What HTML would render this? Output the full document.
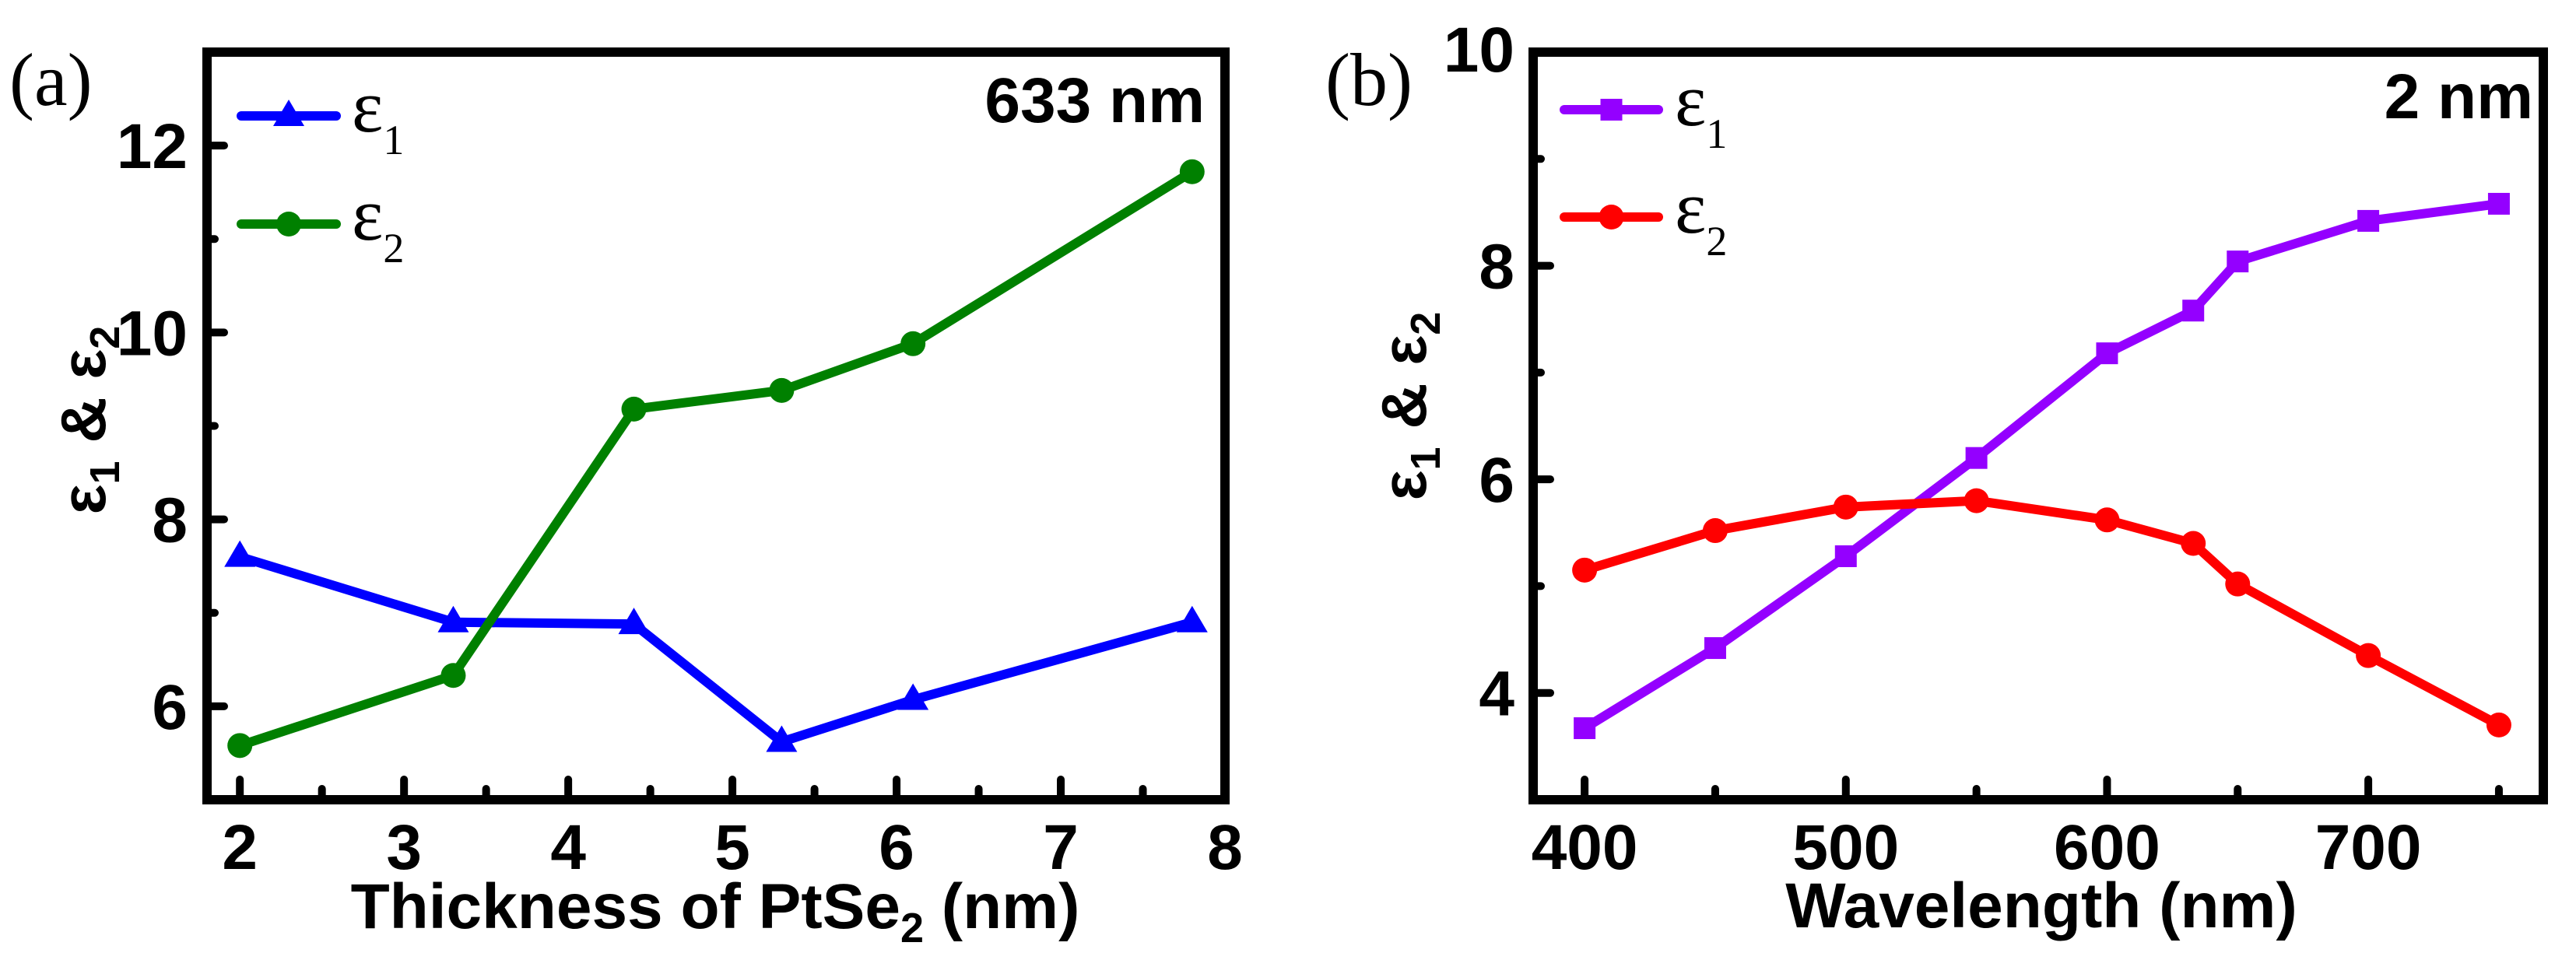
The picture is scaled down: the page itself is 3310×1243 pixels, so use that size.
<!DOCTYPE html>
<html><head><meta charset="utf-8"><style>
html,body{margin:0;padding:0;background:#fff;overflow:hidden;}
svg{display:block;}
.tk{font-family:"Liberation Sans",sans-serif;font-weight:bold;font-size:82px;fill:#000;}
.tt{font-family:"Liberation Sans",sans-serif;font-weight:bold;font-size:82px;fill:#000;}
.sr{font-family:"Liberation Serif",serif;fill:#000;}
</style></head><body>
<svg id="c" width="3310" height="1243" viewBox="0 0 3310 1243" xmlns="http://www.w3.org/2000/svg"></svg>
<script>
const aX=[2,3.3,4.4,5.3,6.1,7.8];
const aE1=[7.6,6.9,6.88,5.62,6.07,6.9];
const aE2=[5.58,6.33,9.18,9.38,9.88,11.72];
const aXTicks=[2,3,4,5,6,7,8];
const aYTicks=[6,8,10,12];
const bX=[400,450,500,550,600,633,650,700,750];
const bE1=[3.67,4.42,5.28,6.2,7.18,7.58,8.04,8.42,8.58];
const bE2=[5.15,5.52,5.74,5.8,5.62,5.4,5.02,4.35,3.7];
const bXTicks=[400,500,600,700];
const bYTicks=[4,6,8,10];

const svg=document.getElementById('c');
const NS='http://www.w3.org/2000/svg';
function mk(t,a,parent){const e=document.createElementNS(NS,t);for(const k in a)e.setAttribute(k,a[k]);(parent||svg).appendChild(e);return e;}

function panel(p){
  const g=mk('g',{});
  
  
  const sx=v=>p.L+(v-p.x0)/(p.x1-p.x0)*(p.R-p.L);
  const sy=v=>p.B-(v-p.y0)/(p.y1-p.y0)*(p.B-p.T);
  for(let v=p.x0m;v<=p.x1+1e-9;v+=p.xminor){
    const major=p.xt.some(t=>Math.abs(t-v)<1e-6);
    const t=mk('line',{x1:sx(v),x2:sx(v),y1:p.B,y2:p.B-(major?26:14),stroke:'#000','stroke-width':10,'stroke-linecap':'round'},g);
    
    
  }
  for(let v=p.y0m;v<=p.y1+1e-9;v+=p.yminor){
    const major=p.yt.some(t=>Math.abs(t-v)<1e-6);
    const t=mk('line',{x1:p.L,x2:p.L+(major?22:10),y1:sy(v),y2:sy(v),stroke:'#000','stroke-width':10,'stroke-linecap':'round'},g);
    
    
  }
  p.xt.forEach(v=>{const t=mk('text',{x:sx(v),y:1117,'text-anchor':'middle',class:'tk'},g);t.textContent=v;
    });
  p.yt.forEach(v=>{const t=mk('text',{x:p.ylx,y:sy(v)+(v===p.y1?25:29),'text-anchor':'end',class:'tk'},g);t.textContent=v;
    });
  p.series.forEach(s=>{
    const pts=p.xs.map((x,i)=>sx(x)+','+sy(s.v[i])).join(' ');
    const l=mk('polyline',{points:pts,fill:'none',stroke:s.c,'stroke-width':12,'stroke-linejoin':'round'},g);
    
    
    p.xs.forEach((x,i)=>{const m=marker(g,s.m,sx(x),sy(s.v[i]),s.c);
      
      });
  });
  const fr=mk('rect',{x:p.L,y:p.T,width:p.R-p.L,height:p.B-p.T,fill:'none',stroke:'#000','stroke-width':12},g);
  
  
}
function marker(g,type,x,y,c){
  if(type==='circle')return mk('circle',{cx:x,cy:y,r:16,fill:c},g);
  if(type==='square')return mk('rect',{x:x-14,y:y-14,width:28,height:28,fill:c},g);
  return mk('polygon',{points:`${x},${y-21} ${x-20},${y+13} ${x+20},${y+13}`,fill:c},g);
}
function legend(x1,x2,y,c,type,sub,tx,name){
  const l=mk('line',{x1:x1,x2:x2,y1:y,y2:y,stroke:c,'stroke-width':12,'stroke-linecap':'round'});
  
  
  const m=marker(svg,type,(x1+x2)/2,y,c);
  
  
  const t=mk('text',{x:tx,y:y+20,class:'sr','font-size':'96'});
  
  
  t.innerHTML='ε<tspan dy="29" font-size="54">'+sub+'</tspan>';
}
function ytitle(cx,cy,name){
  const t=mk('text',{x:0,y:0,transform:`translate(${cx},${cy}) rotate(-90)`,'text-anchor':'middle',class:'tt'});
  
  
  t.innerHTML='ε<tspan dy="18" font-size="54">1</tspan><tspan dy="-18"> &amp; ε</tspan><tspan dy="18" font-size="54">2</tspan>';
}
function txt(x,y,s,cls,anchor,name,fs){
  const t=mk('text',{x:x,y:y,class:cls,'text-anchor':anchor});
  if(fs)t.setAttribute('font-size',fs);
  
  
  t.innerHTML=s;return t;
}

panel({name:'panel-a',L:266,R:1574,T:67,B:1028,x0:1.8,x1:8.0,y0:5,y1:13,x0m:2,xminor:0.5,y0m:6,yminor:1,
  xt:aXTicks,yt:aYTicks,ylx:241,xs:aX,
  series:[{v:aE1,c:'#0000ff',m:'tri',n:'eps1-a'},{v:aE2,c:'#008000',m:'circle',n:'eps2-a'}]});
panel({name:'panel-b',L:1970,R:3268,T:67,B:1028,x0:380.3,x1:767,y0:3,y1:10,x0m:400,xminor:50,y0m:4,yminor:1,
  xt:bXTicks,yt:bYTicks,ylx:1946,xs:bX,
  series:[{v:bE1,c:'#9400ff',m:'square',n:'eps1-b'},{v:bE2,c:'#ff0000',m:'circle',n:'eps2-b'}]});

legend(310,432,149,'#0000ff','tri','1',452,'legend-eps1-a');
legend(310,432,288,'#008000','circle','2',452,'legend-eps2-a');
legend(2010,2131,141,'#9400ff','square','1',2152,'legend-eps1-b');
legend(2010,2131,279,'#ff0000','circle','2',2152,'legend-eps2-b');

txt(1548,157,'633 nm','tt','end','wavelength-annotation');
txt(3255,152,'2 nm','tt','end','thickness-annotation');
txt(12,135,'(a)','sr','start','panel-label-a','96');
txt(1703,135,'(b)','sr','start','panel-label-b','96');
ytitle(135,540,'y-axis-title-a');
ytitle(1832,522,'y-axis-title-b');
txt(919,1193,'Thickness of PtSe<tspan dy="18" font-size="54">2</tspan><tspan dy="-18"> (nm)</tspan>','tt','middle','x-axis-title-a');
txt(2623,1192,'Wavelength (nm)','tt','middle','x-axis-title-b');
</script>
</body></html>
